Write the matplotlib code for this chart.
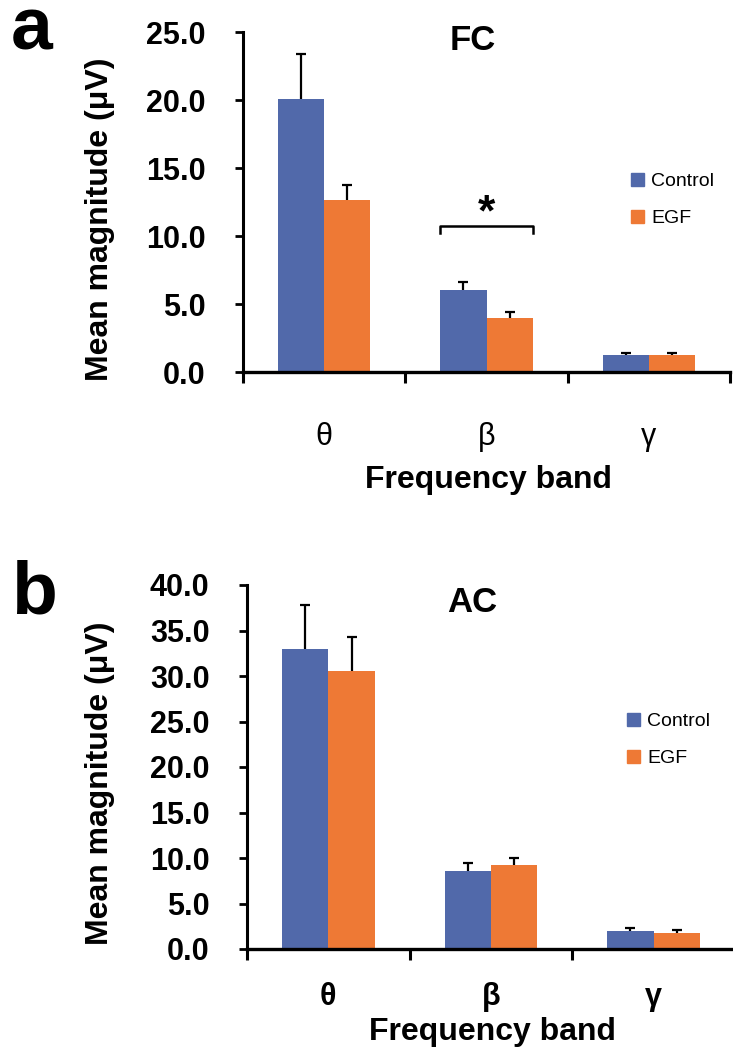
import matplotlib
matplotlib.use("Agg")
import matplotlib.pyplot as plt
import matplotlib.patches as mpatches
import numpy as np

plt.rcParams["font.family"] = ["Liberation Sans", "DejaVu Sans"]

# data
bands = ["\u03b8", "\u03b2", "\u03b3"]
groups = ["Control", "EGF"]
fc_control = [20.1, 6.05, 1.25]
fc_control_err = [3.25, 0.55, 0.15]
fc_egf = [12.65, 3.95, 1.25]
fc_egf_err = [1.1, 0.45, 0.15]
ac_control = [33.0, 8.6, 2.0]
ac_control_err = [4.8, 0.9, 0.3]
ac_egf = [30.5, 9.2, 1.8]
ac_egf_err = [3.8, 0.8, 0.25]

BLUE = "#5169aa"
ORANGE = "#ee7935"
W = 0.285
H = 1054.0
WID = 733.0


def px(x, y):
    # pixel coords (from top-left) -> figure fraction
    return x / WID, 1 - y / H


def draw_panel(ax, ctrl, ctrl_err, egf, egf_err, ymax, bold_bands):
    x = np.arange(len(bands))
    ekw = dict(ecolor="black", elinewidth=1.6, capsize=3.5, capthick=1.6)
    for off, vals, err, col in [(-W / 2, ctrl, ctrl_err, BLUE),
                                (W / 2, egf, egf_err, ORANGE)]:
        bars = ax.bar(x + off, vals, W, color=col, yerr=[np.zeros(3), err],
                      error_kw=ekw, zorder=2)
        # only the upper cap, like the original
        caps = bars.errorbar.lines[1]
        caps[0].set_visible(False)
    ax.set_xlim(-0.5, 2.5)
    ax.set_ylim(0, ymax)
    ax.set_yticks(np.arange(0, ymax + 0.1, 5))
    ax.set_yticklabels(["%.1f" % v for v in np.arange(0, ymax + 0.1, 5)],
                       fontsize=22, fontweight="bold")
    ax.set_xticks([-0.5, 0.5, 1.5, 2.5])
    ax.set_xticklabels([])
    ax.set_xticks(x, minor=True)
    ax.set_xticklabels(bands, minor=True, fontsize=22,
                       fontweight="bold" if bold_bands else "normal")
    ax.tick_params(axis="x", which="minor", length=0)
    ax.tick_params(axis="x", which="major", length=8, width=2.2, direction="out")
    ax.tick_params(axis="y", length=6, width=2.0, pad=21)
    for s in ["top", "right"]:
        ax.spines[s].set_visible(False)
    ax.spines["left"].set_linewidth(2.2)
    ax.spines["bottom"].set_linewidth(2.4)
    ax.spines["bottom"].set_clip_on(False)
    handles = [mpatches.Patch(color=BLUE, label=groups[0]),
               mpatches.Patch(color=ORANGE, label=groups[1])]
    return handles


fig = plt.figure(figsize=(7.33, 10.54), dpi=100)

# panel a
ax1 = fig.add_axes([243 / WID, 1 - 372 / H, 487 / WID, 340 / H])
h = draw_panel(ax1, fc_control, fc_control_err, fc_egf, fc_egf_err, 25, False)
ax1.tick_params(axis="x", which="minor", pad=36)
ax1.plot([1 - W, 1 - W, 1 + W, 1 + W], [10.2, 10.75, 10.75, 10.2],
         color="black", lw=1.8, clip_on=False)
ax1.text(1, 11.6, "*", ha="center", va="center", fontsize=32, fontweight="bold")
ax1.legend(handles=h, loc="center left", bbox_to_anchor=px(631, 200),
           bbox_transform=fig.transFigure, frameon=False, fontsize=14,
           handlelength=0.65, handleheight=0.65, handletextpad=0.4,
           labelspacing=1.0, borderpad=0, borderaxespad=0)
fig.text(*px(473, 40), "FC", ha="center", va="center", fontsize=25, fontweight="bold")
fig.text(*px(100, 219), "Mean magnitude (\u03bcV)", ha="center", va="center",
         rotation=90, fontsize=23, fontweight="bold")
fig.text(*px(488, 480), "Frequency band", ha="center", va="center",
         fontsize=23, fontweight="bold")
fig.text(*px(32, 50), "a", ha="center", va="baseline", fontsize=54, fontweight="bold")

# panel b
ax2 = fig.add_axes([247 / WID, 1 - 949 / H, 488 / WID, 364 / H])
h = draw_panel(ax2, ac_control, ac_control_err, ac_egf, ac_egf_err, 40, True)
ax2.tick_params(axis="x", which="minor", pad=24)
ax2.legend(handles=h, loc="center left", bbox_to_anchor=px(627, 740),
           bbox_transform=fig.transFigure, frameon=False, fontsize=14,
           handlelength=0.65, handleheight=0.65, handletextpad=0.4,
           labelspacing=1.0, borderpad=0, borderaxespad=0)
fig.text(*px(472, 602), "AC", ha="center", va="center", fontsize=25, fontweight="bold")
fig.text(*px(100, 783), "Mean magnitude (\u03bcV)", ha="center", va="center",
         rotation=90, fontsize=23, fontweight="bold")
fig.text(*px(492, 1032), "Frequency band", ha="center", va="center",
         fontsize=23, fontweight="bold")
fig.text(*px(34, 613), "b", ha="center", va="baseline", fontsize=54, fontweight="bold")

fig.savefig("out.png", dpi=100)
